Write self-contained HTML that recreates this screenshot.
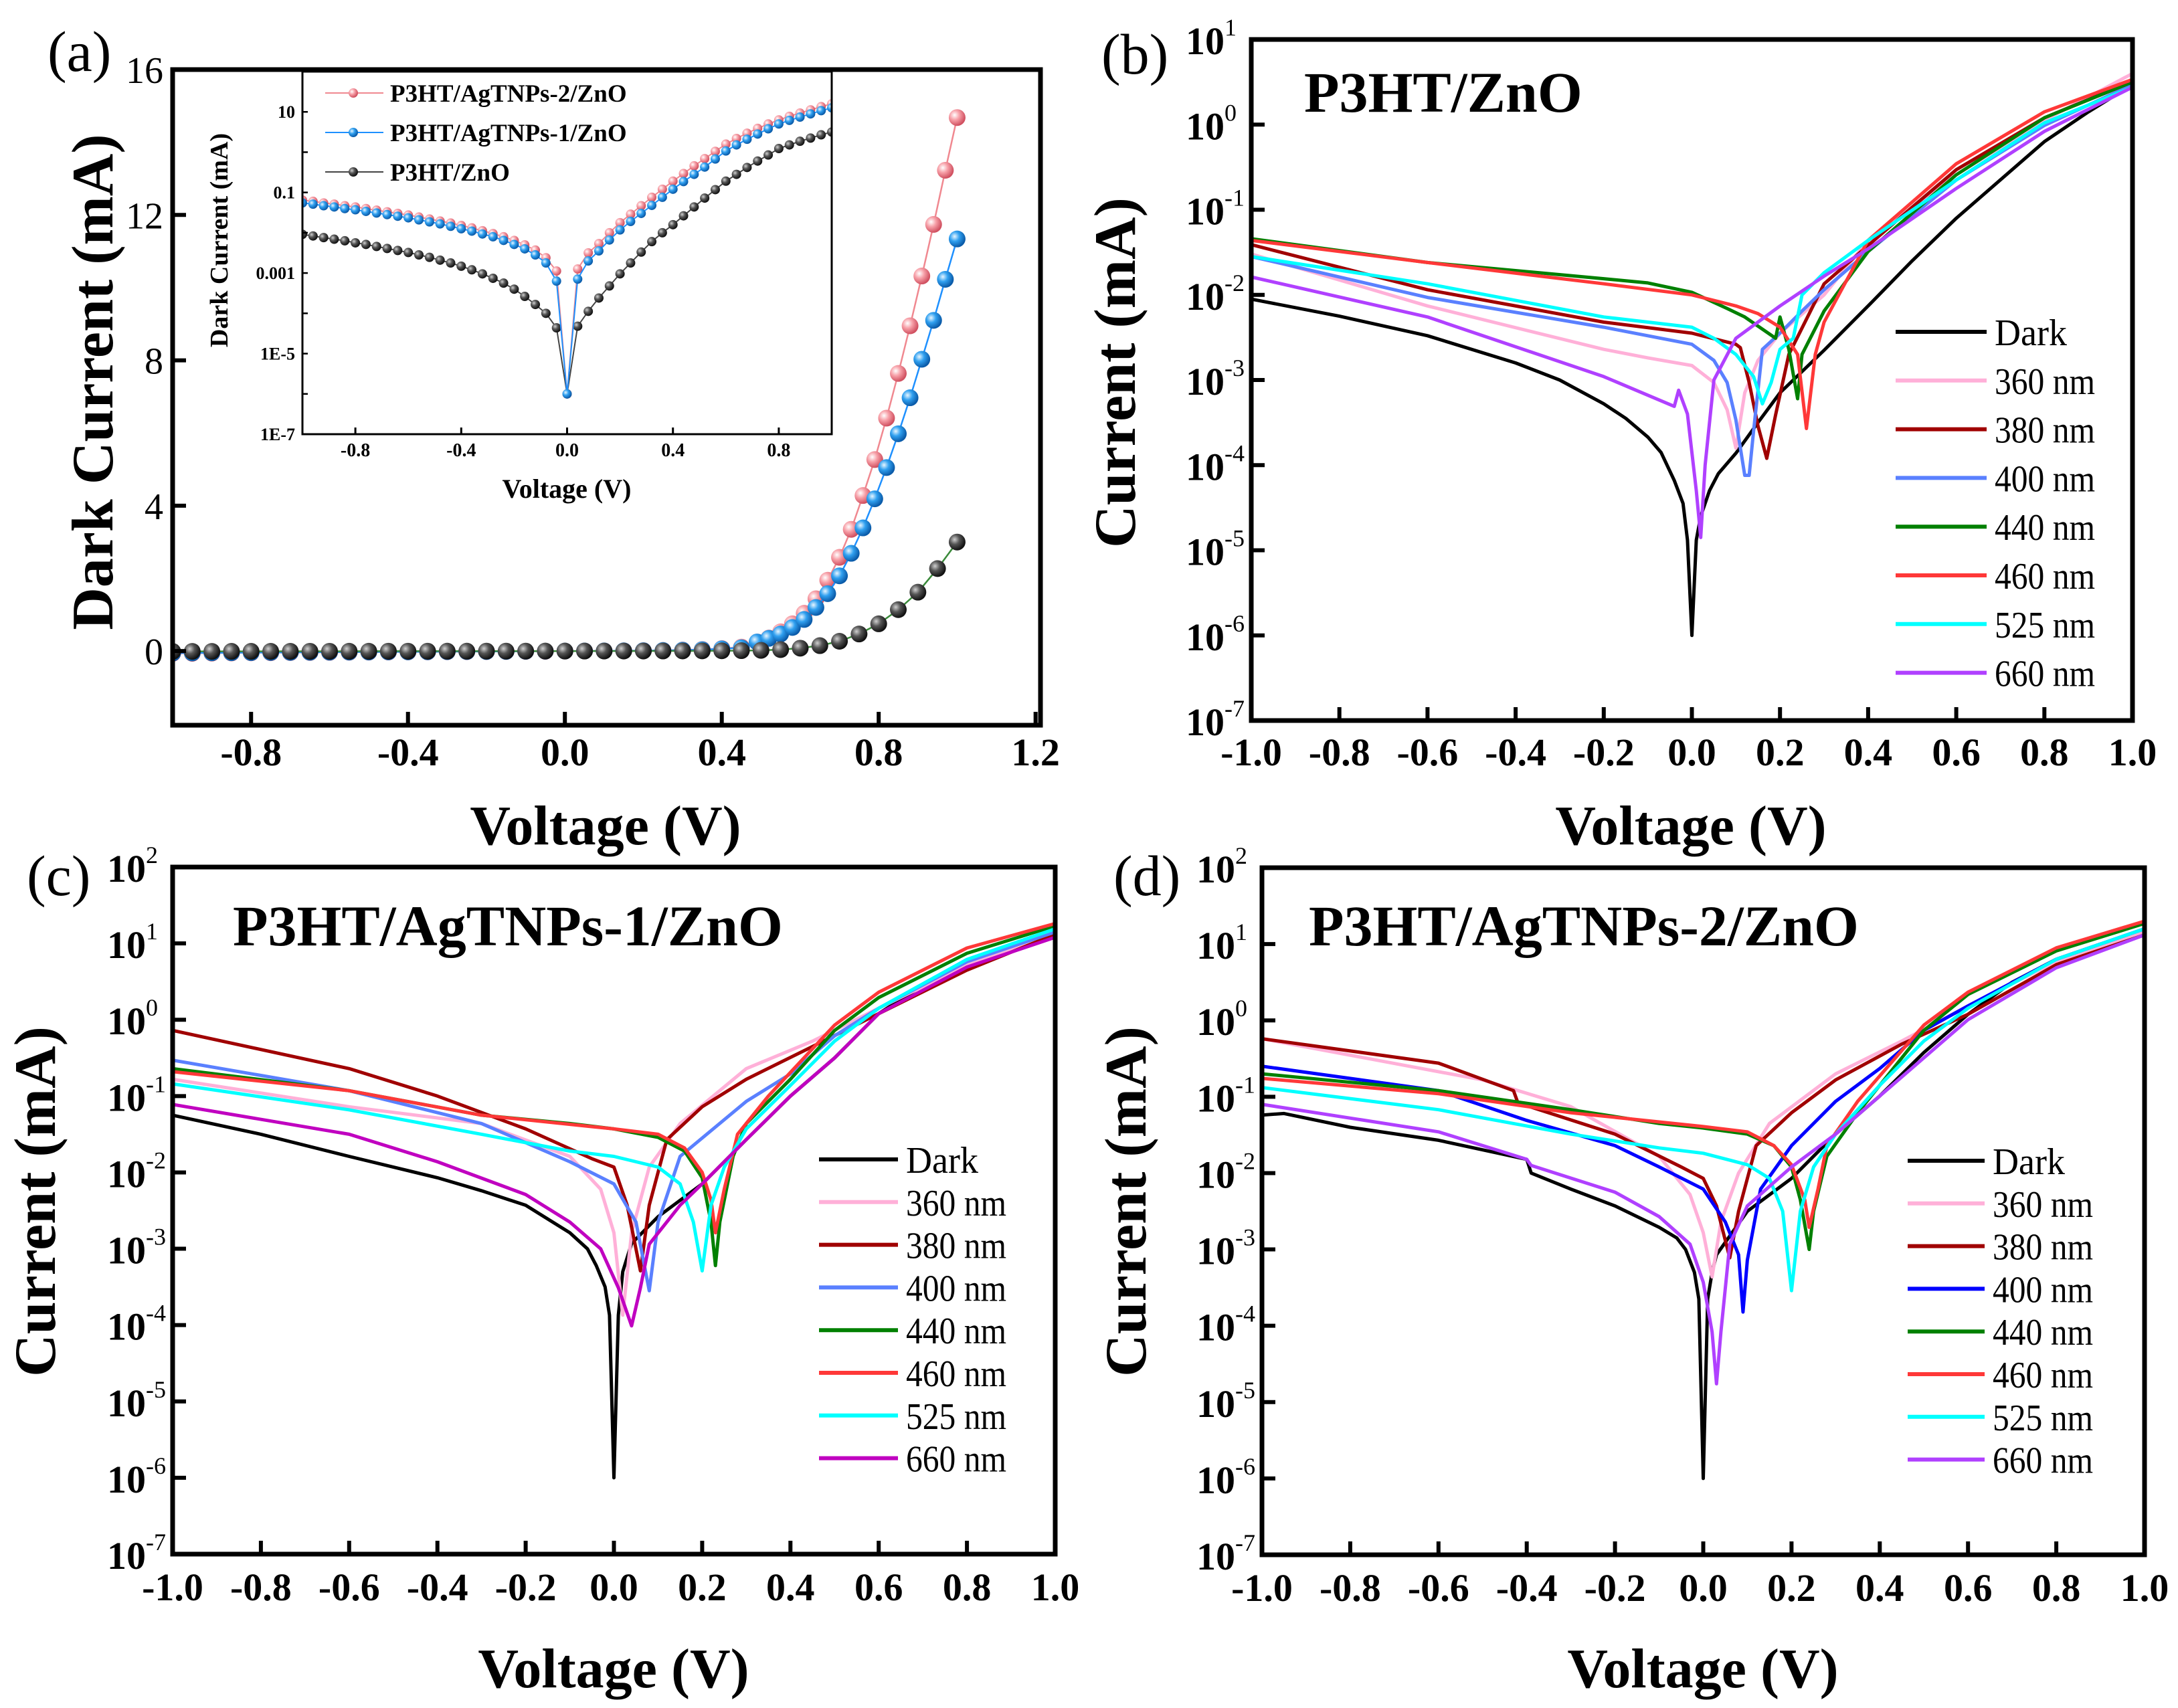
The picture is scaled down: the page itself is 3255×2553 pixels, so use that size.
<!DOCTYPE html>
<html><head><meta charset="utf-8">
<style>
html,body{margin:0;padding:0;background:#fff;}
svg{display:block;font-family:"Liberation Serif",serif;}
</style></head>
<body>
<svg id="fig" width="3255" height="2553" viewBox="0 0 3255 2553" xmlns="http://www.w3.org/2000/svg">
<rect width="3255" height="2553" fill="#fff"/>
<defs>
<radialGradient id="gPink" cx="35%" cy="35%" r="65%"><stop offset="0" stop-color="#fff"/><stop offset="0.45" stop-color="#f7a0a8"/><stop offset="1" stop-color="#d05060"/></radialGradient>
<radialGradient id="gBlue" cx="35%" cy="35%" r="65%"><stop offset="0" stop-color="#e8f6ff"/><stop offset="0.45" stop-color="#30a0f0"/><stop offset="1" stop-color="#0a5aa8"/></radialGradient>
<radialGradient id="gBlack" cx="35%" cy="35%" r="65%"><stop offset="0" stop-color="#d0d0d0"/><stop offset="0.45" stop-color="#555"/><stop offset="1" stop-color="#111"/></radialGradient>
</defs>
</svg>
<script>
// ---------- Panel (a) main: linear ----------
const aV_col = [-1,-0.95,-0.9,-0.85,-0.8,-0.75,-0.7,-0.65,-0.6,-0.55,-0.5,-0.45,-0.4,-0.35,-0.3,-0.25,-0.2,-0.15,-0.1,-0.05,0,0.05,0.1,0.15,0.2,0.25,0.3,0.35,0.4,0.45,
  0.49,0.52,0.55,0.58,0.61,0.64,0.67,0.7,0.73,0.76,0.79,0.82,0.85,0.88,0.91,0.94,0.97,1.0];
const aI_pink = [-0.065,-0.06,-0.055,-0.05,-0.047,-0.044,-0.04,-0.037,-0.034,-0.031,-0.028,-0.025,-0.022,-0.02,-0.017,-0.015,-0.012,-0.01,-0.007,-0.004,0,0.004,0.006,0.009,0.013,0.019,0.03,0.045,0.07,0.11,
  0.25,0.36,0.53,0.75,1.04,1.44,1.95,2.58,3.35,4.28,5.27,6.41,7.64,8.95,10.32,11.74,13.23,14.68];
const aI_blue = [-0.055,-0.05,-0.047,-0.044,-0.041,-0.038,-0.035,-0.032,-0.03,-0.027,-0.025,-0.022,-0.02,-0.018,-0.015,-0.013,-0.011,-0.009,-0.006,-0.003,0,0.003,0.005,0.008,0.011,0.016,0.025,0.038,0.06,0.09,
  0.25,0.35,0.47,0.65,0.87,1.2,1.58,2.07,2.69,3.39,4.19,5.05,5.98,6.97,8.03,9.1,10.23,11.34];
const aV_blk = [-1,-0.95,-0.9,-0.85,-0.8,-0.75,-0.7,-0.65,-0.6,-0.55,-0.5,-0.45,-0.4,-0.35,-0.3,-0.25,-0.2,-0.15,-0.1,-0.05,0,0.05,0.1,0.15,0.2,0.25,0.3,0.35,0.4,0.45,0.5,0.55,0.6,0.65,0.7,0.75,0.8,0.85,0.9,0.95,1.0];
const aI_blk = [-0.009,-0.008,-0.008,-0.007,-0.007,-0.006,-0.006,-0.005,-0.005,-0.004,-0.004,-0.003,-0.003,-0.003,-0.002,-0.002,-0.001,-0.001,-0.001,0,0,0,0.001,0.001,0.002,0.003,0.004,0.006,0.008,0.012,0.02,0.04,0.08,0.15,0.27,0.47,0.75,1.14,1.62,2.27,3.0];
const aXTicks = [-0.8,-0.4,0.0,0.4,0.8,1.2];
const aXTickLabels = ["-0.8","-0.4","0.0","0.4","0.8","1.2"];
const aYTicks = [0,4,8,12,16];
const aYTickLabels = ["0","4","8","12","16"];
// ---------- Panel (a) inset: log ----------
const inV = [-1,-0.96,-0.92,-0.88,-0.84,-0.8,-0.76,-0.72,-0.68,-0.64,-0.6,-0.56,-0.52,-0.48,-0.44,-0.4,-0.36,-0.32,-0.28,-0.24,-0.2,-0.16,-0.12,-0.08,-0.04,0,0.04,0.08,0.12,0.16,0.2,0.24,0.28,0.32,0.36,0.4,0.44,0.48,0.52,0.56,0.6,0.64,0.68,0.72,0.76,0.8,0.84,0.88,0.92,0.96,1.0];
const inLog_pink = [-1.19,-1.22,-1.26,-1.29,-1.33,-1.36,-1.40,-1.44,-1.48,-1.52,-1.56,-1.61,-1.66,-1.71,-1.76,-1.82,-1.88,-1.95,-2.02,-2.10,-2.19,-2.30,-2.43,-2.62,-2.95,-6.0,-2.9,-2.5,-2.27,-2.0,-1.75,-1.54,-1.33,-1.12,-0.92,-0.72,-0.53,-0.34,-0.16,0.02,0.2,0.34,0.47,0.59,0.70,0.80,0.89,0.97,1.05,1.13,1.2];
const inLog_blue = [-1.26,-1.29,-1.33,-1.36,-1.40,-1.43,-1.47,-1.51,-1.55,-1.59,-1.63,-1.68,-1.73,-1.78,-1.84,-1.90,-1.96,-2.03,-2.10,-2.19,-2.29,-2.40,-2.55,-2.75,-3.2,-6.0,-3.15,-2.7,-2.45,-2.18,-1.93,-1.72,-1.52,-1.32,-1.12,-0.92,-0.73,-0.55,-0.37,-0.17,0.03,0.18,0.32,0.45,0.58,0.70,0.79,0.87,0.95,1.03,1.1];
const inLog_blk = [-2.04,-2.08,-2.12,-2.16,-2.20,-2.25,-2.29,-2.34,-2.39,-2.44,-2.49,-2.55,-2.61,-2.68,-2.75,-2.83,-2.92,-3.02,-3.13,-3.25,-3.40,-3.58,-3.78,-4.0,-4.36,-6.0,-4.32,-3.95,-3.62,-3.32,-3.02,-2.75,-2.48,-2.22,-2.0,-1.80,-1.58,-1.36,-1.14,-0.93,-0.72,-0.55,-0.38,-0.22,-0.07,0.09,0.18,0.27,0.35,0.43,0.5];
const inXTicks = [-0.8,-0.4,0.0,0.4,0.8];
const inXTickLabels = ["-0.8","-0.4","0.0","0.4","0.8"];
const inYTickLabels = ["1E-7","1E-5","0.001","0.1","10"];
// ---------- Panel (b) P3HT/ZnO: V arrays and log10(I/mA) arrays ----------
const bV_dark=[-1,-0.8,-0.6,-0.4,-0.3,-0.2,-0.15,-0.1,-0.07,-0.04,-0.02,-0.01,0,0.01,0.02,0.04,0.06,0.1,0.15,0.2,0.3,0.4,0.5,0.6,0.7,0.8,0.9,1.0];
const bL_dark=[-2.05,-2.25,-2.48,-2.8,-3.0,-3.28,-3.45,-3.67,-3.85,-4.18,-4.45,-4.88,-6.0,-4.88,-4.6,-4.3,-4.1,-3.86,-3.5,-3.15,-2.65,-2.13,-1.6,-1.1,-0.65,-0.2,0.15,0.47];
const bV_360=[-1,-0.6,-0.2,-0.1,0,0.05,0.08,0.1,0.12,0.15,0.2,0.3,0.4,0.6,0.8,1.0];
const bL_360=[-1.52,-2.13,-2.64,-2.74,-2.83,-3.03,-3.35,-3.8,-3.15,-2.77,-2.45,-2.0,-1.36,-0.59,0.05,0.6];
const bV_380=[-1,-0.6,-0.2,0,0.1,0.11,0.13,0.15,0.17,0.19,0.22,0.3,0.4,0.5,0.6,0.8,1.0];
const bL_380=[-1.41,-1.94,-2.32,-2.45,-2.58,-2.62,-3.03,-3.54,-3.92,-3.41,-2.7,-1.87,-1.42,-0.97,-0.53,0.08,0.51];
const bV_400=[-1,-0.6,-0.2,0,0.05,0.08,0.1,0.12,0.13,0.14,0.16,0.2,0.25,0.3,0.4,0.5,0.6,0.8,1.0];
const bL_400=[-1.55,-2.03,-2.38,-2.58,-2.77,-3.03,-3.47,-4.12,-4.12,-3.6,-2.64,-2.45,-2.19,-1.94,-1.49,-1.07,-0.65,-0.01,0.47];
const bV_440=[-1,-0.6,-0.2,-0.1,0,0.08,0.12,0.19,0.2,0.22,0.24,0.25,0.3,0.4,0.6,0.8,1.0];
const bL_440=[-1.34,-1.62,-1.81,-1.86,-1.97,-2.16,-2.26,-2.51,-2.26,-2.64,-3.22,-2.7,-2.19,-1.49,-0.59,0.08,0.5];
const bV_460=[-1,-0.6,-0.2,0,0.1,0.15,0.2,0.24,0.26,0.28,0.3,0.4,0.6,0.8,1.0];
const bL_460=[-1.36,-1.62,-1.87,-2.0,-2.13,-2.22,-2.38,-2.7,-3.57,-2.7,-2.32,-1.36,-0.46,0.15,0.53];
const bV_525=[-1,-0.6,-0.2,0,0.05,0.1,0.14,0.16,0.18,0.2,0.23,0.25,0.3,0.4,0.6,0.8,1.0];
const bL_525=[-1.55,-1.87,-2.26,-2.38,-2.51,-2.7,-2.96,-3.28,-3.03,-2.64,-2.51,-2.0,-1.74,-1.36,-0.65,0.02,0.44];
const bV_660=[-1,-0.6,-0.2,-0.04,-0.03,-0.01,0.01,0.02,0.03,0.05,0.1,0.2,0.3,0.4,0.6,0.8,1.0];
const bL_660=[-1.79,-2.26,-2.96,-3.31,-3.12,-3.4,-4.3,-4.85,-4.0,-3.0,-2.51,-2.13,-1.78,-1.46,-0.75,-0.08,0.44];
// ---------- Panel (c) P3HT/AgTNPs-1/ZnO ----------
const cV_dark=[-1,-0.8,-0.6,-0.4,-0.3,-0.2,-0.1,-0.06,-0.04,-0.02,-0.01,0,0.01,0.02,0.04,0.1,0.2,0.3,0.4,0.5,0.6,0.7,0.8,0.9,1.0];
const cL_dark=[-1.25,-1.5,-1.79,-2.07,-2.24,-2.43,-2.79,-3.0,-3.22,-3.5,-3.87,-6.0,-3.87,-3.3,-2.93,-2.58,-2.15,-1.57,-1.0,-0.5,0.08,0.45,0.72,0.92,1.08];
const cV_360=[-1,-0.6,-0.3,-0.1,-0.03,0,0.02,0.04,0.08,0.15,0.3,0.45,0.6,0.8,1.0];
const cL_360=[-0.78,-1.14,-1.36,-1.79,-2.22,-2.79,-3.87,-2.79,-1.93,-1.36,-0.64,-0.28,0.15,0.72,1.12];
const cV_380=[-1,-0.6,-0.4,-0.2,-0.05,0,0.03,0.06,0.08,0.12,0.2,0.3,0.45,0.6,0.8,1.0];
const cL_380=[-0.14,-0.64,-1.0,-1.43,-1.82,-1.93,-2.43,-3.29,-2.43,-1.57,-1.14,-0.78,-0.35,0.08,0.65,1.12];
const cV_400=[-1,-0.6,-0.3,-0.1,0,0.05,0.08,0.1,0.15,0.3,0.4,0.5,0.6,0.8,1.0];
const cL_400=[-0.53,-0.93,-1.36,-1.86,-2.15,-2.65,-3.55,-2.65,-1.79,-1.07,-0.71,-0.21,0.15,0.76,1.15];
const cV_440=[-1,-0.6,-0.3,-0.1,0,0.1,0.16,0.2,0.22,0.23,0.24,0.27,0.3,0.4,0.5,0.6,0.8,1.0];
const cL_440=[-0.64,-0.93,-1.25,-1.36,-1.43,-1.54,-1.72,-2.07,-2.65,-3.22,-2.65,-1.79,-1.36,-0.78,-0.14,0.29,0.87,1.23];
const cV_460=[-1,-0.6,-0.3,0,0.1,0.16,0.2,0.22,0.23,0.25,0.28,0.35,0.5,0.6,0.8,1.0];
const cL_460=[-0.68,-0.93,-1.25,-1.43,-1.5,-1.68,-2.0,-2.36,-2.79,-2.22,-1.5,-1.0,-0.07,0.36,0.94,1.26];
const cV_525=[-1,-0.6,-0.3,-0.1,0,0.1,0.15,0.18,0.2,0.22,0.25,0.3,0.4,0.5,0.6,0.8,1.0];
const cL_525=[-0.84,-1.18,-1.5,-1.72,-1.79,-1.93,-2.15,-2.65,-3.29,-2.43,-1.93,-1.43,-0.86,-0.28,0.15,0.79,1.19];
const cV_660=[-1,-0.6,-0.4,-0.2,-0.1,-0.03,0.01,0.04,0.06,0.08,0.15,0.2,0.3,0.4,0.5,0.6,0.8,1.0];
const cL_660=[-1.11,-1.5,-1.86,-2.29,-2.65,-3.0,-3.51,-4.01,-3.51,-2.94,-2.43,-2.15,-1.57,-1.0,-0.5,0.08,0.69,1.08];
// ---------- Panel (d) P3HT/AgTNPs-2/ZnO ----------
const dV_dark=[-1,-0.95,-0.8,-0.6,-0.4,-0.39,-0.3,-0.2,-0.1,-0.06,-0.04,-0.02,-0.01,0,0.01,0.02,0.03,0.1,0.2,0.3,0.4,0.5,0.6,0.7,0.8,0.9,1.0];
const dL_dark=[-1.24,-1.22,-1.4,-1.57,-1.82,-2.0,-2.21,-2.43,-2.71,-2.85,-3.0,-3.3,-3.65,-6.0,-3.65,-3.3,-3.07,-2.5,-2.07,-1.49,-0.99,-0.42,0.08,0.5,0.8,1.0,1.16];
const dV_360=[-1,-0.5,-0.3,-0.1,-0.03,0,0.02,0.04,0.08,0.15,0.3,0.45,0.6,0.8,1.0];
const dL_360=[-0.24,-0.78,-1.13,-1.78,-2.28,-2.78,-3.36,-2.64,-2.0,-1.35,-0.7,-0.27,0.19,0.77,1.16];
const dV_380=[-1,-0.6,-0.43,-0.42,-0.2,-0.05,0,0.03,0.06,0.08,0.12,0.2,0.3,0.45,0.6,0.8,1.0];
const dL_380=[-0.24,-0.56,-0.92,-1.08,-1.49,-1.92,-2.07,-2.43,-3.11,-2.5,-1.64,-1.21,-0.78,-0.31,0.08,0.73,1.12];
const dV_400=[-1,-0.6,-0.4,-0.2,-0.1,0,0.05,0.08,0.09,0.1,0.13,0.2,0.3,0.4,0.5,0.6,0.8,1.0];
const dL_400=[-0.6,-0.92,-1.31,-1.64,-1.92,-2.21,-2.64,-3.07,-3.82,-3.14,-2.21,-1.64,-1.06,-0.63,-0.13,0.19,0.8,1.2];
const dV_440=[-1,-0.6,-0.3,-0.1,0,0.1,0.16,0.2,0.22,0.24,0.25,0.28,0.35,0.5,0.6,0.8,1.0];
const dL_440=[-0.7,-0.92,-1.17,-1.35,-1.41,-1.49,-1.64,-1.92,-2.35,-3.0,-2.5,-1.78,-1.21,-0.13,0.34,0.91,1.27];
const dV_460=[-1,-0.6,-0.3,0,0.1,0.16,0.2,0.23,0.24,0.26,0.28,0.35,0.5,0.6,0.8,1.0];
const dL_460=[-0.76,-0.96,-1.21,-1.39,-1.46,-1.64,-1.89,-2.35,-2.71,-2.21,-1.64,-1.06,-0.06,0.37,0.95,1.3];
const dV_525=[-1,-0.6,-0.3,-0.1,0,0.1,0.15,0.18,0.2,0.22,0.25,0.3,0.4,0.5,0.6,0.8,1.0];
const dL_525=[-0.88,-1.17,-1.49,-1.67,-1.74,-1.89,-2.07,-2.5,-3.54,-2.5,-1.92,-1.49,-0.85,-0.27,0.16,0.8,1.2];
const dV_660=[-1,-0.6,-0.4,-0.39,-0.2,-0.1,-0.03,0,0.02,0.03,0.04,0.06,0.1,0.2,0.3,0.4,0.5,0.6,0.8,1.0];
const dL_660=[-1.1,-1.46,-1.82,-1.9,-2.25,-2.57,-2.93,-3.43,-4.08,-4.76,-4.08,-2.93,-2.43,-1.92,-1.49,-0.99,-0.49,0.01,0.69,1.12];
const logXTicks=[-1.0,-0.8,-0.6,-0.4,-0.2,0.0,0.2,0.4,0.6,0.8,1.0];
const logXTickLabels=["-1.0","-0.8","-0.6","-0.4","-0.2","0.0","0.2","0.4","0.6","0.8","1.0"];
const legendNames=["Dark","360 nm","380 nm","400 nm","440 nm","460 nm","525 nm","660 nm"];

const NS="http://www.w3.org/2000/svg";
const svg=document.getElementById('fig');
function el(tag,attrs,parent){const e=document.createElementNS(NS,tag);for(const k in attrs)e.setAttribute(k,attrs[k]);(parent||svg).appendChild(e);return e;}
function txt(s,attrs,parent){const t=el('text',attrs,parent);t.textContent=s;return t;}

function linScale(d0,d1,r0,r1){return v=>r0+(v-d0)*(r1-r0)/(d1-d0);}
function pathD(xs,ys,sx,sy){return xs.map((v,i)=>(i?'L':'M')+sx(v).toFixed(1)+','+sy(ys[i]).toFixed(1)).join(' ');}

let clipN=0;
function clipFor(x0,y0,x1,y1){const id='clip'+(clipN++);const c=el('clipPath',{id:id});el('rect',{x:x0,y:y0,width:x1-x0,height:y1-y0},c);return 'url(#'+id+')';}

// ===== Panel (a) =====
(function(){
  const L=258,R=1555,T=104,B=1084;
  const sx=linScale(-1,1.2125,L,R), sy=linScale(-2.04,16,B,T);
  const g=el('g',{});  
  const lab=txt('(a)',{x:71,y:106,'font-size':86},g);  
  const cp=clipFor(L,T,R,B);
  const series=[{v:aV_col,i:aI_pink,c:'#f08890',g:'gPink',n:'series-agtnps-2'},{v:aV_col,i:aI_blue,c:'#1e90ff',g:'gBlue',n:'series-agtnps-1'},{v:aV_blk,i:aI_blk,c:'#3a8a3a',g:'gBlack',n:'series-p3ht-zno'}];
  series.forEach(s=>{
    const sg=el('g',{'clip-path':cp},g);  
    el('path',{d:pathD(s.v,s.i,sx,sy),fill:'none',stroke:s.c,'stroke-width':2.5},sg);
    s.v.forEach((v,k)=>{const m=el('circle',{cx:sx(v),cy:sy(s.i[k]),r:12.5,fill:'url(#'+s.g+')'},sg);
       });
  });
  const ax=el('rect',{x:L,y:T,width:R-L,height:B-T,fill:'none',stroke:'#000','stroke-width':7},g);
   
  aXTicks.forEach((t,k)=>{el('line',{x1:sx(t),x2:sx(t),y1:B,y2:B-20,stroke:'#000','stroke-width':6},g);
    const tl=txt(aXTickLabels[k],{x:sx(t),y:1144,'font-size':58,'font-weight':'bold','text-anchor':'middle'},g);
     });
  aYTicks.forEach((t,k)=>{el('line',{x1:L,x2:L+20,y1:sy(t),y2:sy(t),stroke:'#000','stroke-width':6},g);
    const tl=txt(aYTickLabels[k],{x:244,y:sy(t)+20,'font-size':56,'text-anchor':'end'},g);
     });
  const xt=txt('Voltage (V)',{x:905,y:1262,'font-size':84,'font-weight':'bold','text-anchor':'middle'},g);
   
  const yt=txt('Dark Current (mA)',{x:0,y:0,'font-size':88,'font-weight':'bold','text-anchor':'middle',transform:'translate(168,571) rotate(-90)'},g);
   

  // inset
  const iL=452,iR=1243,iT=107,iB=649;
  const ix=linScale(-1,1,iL,iR), iy=linScale(-7,2,iB,iT);
  const ig=el('g',{},g);  
  el('rect',{x:iL,y:iT,width:iR-iL,height:iB-iT,fill:'#fff'},ig);
  const icp=clipFor(iL,iT,iR,iB);
  const iser=[{l:inLog_blk,c:'#444',g:'gBlack',n:'inset-series-p3ht-zno'},{l:inLog_pink,c:'#f08890',g:'gPink',n:'inset-series-agtnps-2'},{l:inLog_blue,c:'#1e90ff',g:'gBlue',n:'inset-series-agtnps-1'}];
  iser.forEach(s=>{
    const sg=el('g',{'clip-path':icp},ig);  
    el('path',{d:pathD(inV,s.l,ix,iy),fill:'none',stroke:s.c,'stroke-width':2},sg);
    inV.forEach((v,k)=>{const m=el('circle',{cx:ix(v),cy:iy(s.l[k]),r:7,fill:'url(#'+s.g+')'},sg);
       });
  });
  el('rect',{x:iL,y:iT,width:iR-iL,height:iB-iT,fill:'none',stroke:'#000','stroke-width':3},ig);
  inXTicks.forEach((t,k)=>{el('line',{x1:ix(t),x2:ix(t),y1:iB,y2:iB-10,stroke:'#000','stroke-width':3},ig);
    const tl=txt(inXTickLabels[k],{x:ix(t),y:682,'font-size':28,'font-weight':'bold','text-anchor':'middle'},ig);
     });
  for(let p=-7;p<=2;p++){el('line',{x1:iL,x2:iL+8,y1:iy(p),y2:iy(p),stroke:'#000','stroke-width':2.5},ig);}
  inYTickLabels.forEach((s,k)=>{const tl=txt(s,{x:441,y:iy(-7+2*k)+9,'font-size':26,'font-weight':'bold','text-anchor':'end'},ig);
     });
  const ixt=txt('Voltage (V)',{x:847,y:744,'font-size':40,'font-weight':'bold','text-anchor':'middle'},ig);
   
  const iyt=txt('Dark Current (mA)',{x:0,y:0,'font-size':38,'font-weight':'bold','text-anchor':'middle',transform:'translate(340,359) rotate(-90)'},ig);
   
  const leg=[['P3HT/AgTNPs-2/ZnO','#f08890','gPink'],['P3HT/AgTNPs-1/ZnO','#1e90ff','gBlue'],['P3HT/ZnO','#444','gBlack']];
  leg.forEach((e,k)=>{const y=139+59*k;
    const lg=el('g',{},ig);  
    el('line',{x1:486,x2:573,y1:y,y2:y,stroke:e[1],'stroke-width':2},lg);
    el('circle',{cx:528,cy:y,r:7,fill:'url(#'+e[2]+')'},lg);
    txt(e[0],{x:583,y:y+13,'font-size':37,'font-weight':'bold'},lg);});
})();

// ===== Log panels =====
function logPanel(o){
  const {L,R,T,B,pmax,pmin}=o;
  const sx=linScale(-1,1,L,R), sy=linScale(pmin,pmax,B,T);
  const g=el('g',{});  
  const lab=txt(o.label,{x:o.labX,y:o.labY,'font-size':86},g);  
  const cp=clipFor(L,T,R,B);
  o.series.forEach((s,k)=>{
    const p=el('path',{d:pathD(s[0],s[1],sx,sy),fill:'none',stroke:o.colors[k],'stroke-width':5,'stroke-linejoin':'round','clip-path':cp},g);
     
  });
  const fr=el('rect',{x:L,y:T,width:R-L,height:B-T,fill:'none',stroke:'#000','stroke-width':7},g);
   
  logXTicks.forEach((t,k)=>{el('line',{x1:sx(t),x2:sx(t),y1:B,y2:B-20,stroke:'#000','stroke-width':6},g);
    const tl=txt(logXTickLabels[k],{x:sx(t),y:o.xlabY,'font-size':58,'font-weight':'bold','text-anchor':'middle'},g);
     });
  for(let p=pmin;p<=pmax;p++){const y=sy(p);
    el('line',{x1:L,x2:L+20,y1:y,y2:y,stroke:'#000','stroke-width':6},g);
    const tl=txt('10',{x:L-40,y:y+22,'font-size':58,'font-weight':'bold','text-anchor':'end'},g);
     
    txt(String(p),{x:L-40,y:y-6,'font-size':36,'text-anchor':'start'},g);
  }
  const xt=txt('Voltage (V)',{x:o.xtX,y:o.xtY,'font-size':84,'font-weight':'bold','text-anchor':'middle'},g);
   
  const yt=txt('Current (mA)',{x:0,y:0,'font-size':88,'font-weight':'bold','text-anchor':'middle',transform:'translate('+o.ytX+','+o.ytY+') rotate(-90)'},g);
   
  const tt=txt(o.title,{x:o.ttX,y:o.ttY,'font-size':86,'font-weight':'bold'},g);
   
  legendNames.forEach((n,k)=>{const y=o.legY0+o.legDY*k;
    const lg=el('g',{},g);  
    el('line',{x1:o.legX1,x2:o.legX2,y1:y,y2:y,stroke:o.colors[k],'stroke-width':6},lg);
    txt(n,{x:o.legX2+12,y:y+20,'font-size':56,'textLength':n==='Dark'?108:150,'lengthAdjust':'spacingAndGlyphs'},lg);});
}
logPanel({name:'panel-b',label:'(b)',labX:1646,labY:110,L:1870,R:3187,T:59,B:1077,pmax:1,pmin:-7,xlabY:1144,xtX:2527,xtY:1262,ytX:1696,ytY:557,
  title:'P3HT/ZnO',ttX:1949,ttY:167,legX1:2833,legX2:2969,legY0:496,legDY:72.8,
  colors:['#000','#ffb0d8','#a00000','#5a80ff','#008000','#ff3838','#00ffff','#b040ff'],
  series:[[bV_dark,bL_dark],[bV_360,bL_360],[bV_380,bL_380],[bV_400,bL_400],[bV_440,bL_440],[bV_460,bL_460],[bV_525,bL_525],[bV_660,bL_660]]});
logPanel({name:'panel-c',label:'(c)',labX:40,labY:1338,L:258,R:1577,T:1296,B:2323,pmax:2,pmin:-7,xlabY:2392,xtX:917,xtY:2522,ytX:82,ytY:1796,
  title:'P3HT/AgTNPs-1/ZnO',ttX:348,ttY:1413,legX1:1224,legX2:1342,legY0:1733,legDY:63.8,
  colors:['#000','#ffb0d8','#a00000','#5a80ff','#008000','#ff3838','#00ffff','#c000c0'],
  series:[[cV_dark,cL_dark],[cV_360,cL_360],[cV_380,cL_380],[cV_400,cL_400],[cV_440,cL_440],[cV_460,cL_460],[cV_525,cL_525],[cV_660,cL_660]]});
logPanel({name:'panel-d',label:'(d)',labX:1664,labY:1338,L:1886,R:3205,T:1297,B:2324,pmax:2,pmin:-7,xlabY:2393,xtX:2545,xtY:2522,ytX:1712,ytY:1796,
  title:'P3HT/AgTNPs-2/ZnO',ttX:1956,ttY:1413,legX1:2851,legX2:2966,legY0:1735,legDY:63.8,
  colors:['#000','#ffb0d8','#a00000','#0000ff','#008000','#ff3838','#00ffff','#b040ff'],
  series:[[dV_dark,dL_dark],[dV_360,dL_360],[dV_380,dL_380],[dV_400,dL_400],[dV_440,dL_440],[dV_460,dL_460],[dV_525,dL_525],[dV_660,dL_660]]});
</script>
</body></html>
